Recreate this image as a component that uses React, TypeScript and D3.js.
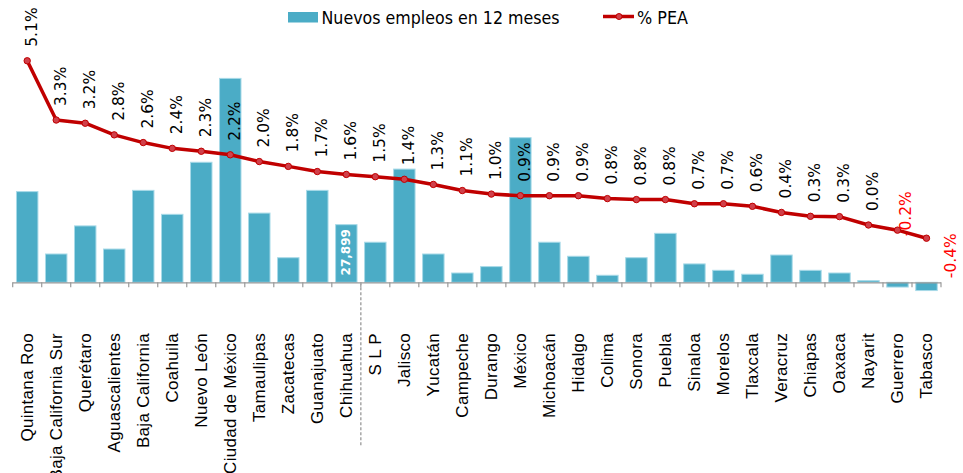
import React from 'react';
import { scaleLinear, scaleBand, line } from 'd3';

const states = [
  'Quintana Roo', 'Baja California Sur', 'Querétaro', 'Aguascalientes', 'Baja California',
  'Coahuila', 'Nuevo León', 'Ciudad de México', 'Tamaulipas', 'Zacatecas', 'Guanajuato',
  'Chihuahua', 'S L P', 'Jalisco', 'Yucatán', 'Campeche', 'Durango', 'México', 'Michoacán',
  'Hidalgo', 'Colima', 'Sonora', 'Puebla', 'Sinaloa', 'Morelos', 'Tlaxcala', 'Veracruz',
  'Chiapas', 'Oaxaca', 'Nayarit', 'Guerrero', 'Tabasco',
];

// nuevos empleos en 12 meses
const empleos = [
  43900, 13700, 27300, 16100, 44500, 32900, 58100, 98700, 33500, 11900, 44500,
  27899, 19400, 54800, 13700, 4500, 7600, 70000, 19400, 12600, 3400, 11900,
  23700, 8900, 5800, 3900, 13200, 5800, 4500, 800, -2300, -4000,
];

// % PEA
const pctPEA = [
  5.1, 3.26, 3.16, 2.8, 2.56, 2.38, 2.29, 2.18, 1.97, 1.82, 1.66,
  1.57, 1.5, 1.42, 1.26, 1.07, 0.96, 0.91, 0.91, 0.91, 0.82, 0.79,
  0.79, 0.66, 0.66, 0.58, 0.39, 0.27, 0.26, 0.0, -0.16, -0.41,
];

const labeledBar = 'Chihuahua';
const splitAfter = 'Chihuahua';

const W = 963;
const H = 473;
const BAR = '#4BACC6';
const RED = '#C00000';
const LEGEND_FONT = "'DejaVu Sans Condensed', 'DejaVu Sans', sans-serif";

const App = () => {
  const x = scaleBand().domain(states).range([12.7, 941]).paddingInner(0.26).paddingOuter(0.13);
  const step = x.step();
  const yBar = scaleLinear().domain([0, 100000]).range([282.3, 75.7]);
  const yPct = scaleLinear().domain([0, 5]).range([225, 64]);
  const cx = (s) => x(s) + x.bandwidth() / 2;

  const pts = states.map((s, i) => [cx(s), yPct(pctPEA[i])]);
  const path = line()(pts);
  const base = yBar(0);
  const splitX = x(splitAfter) + x.bandwidth() + (step - x.bandwidth()) / 2;

  return (
    <div style={{ position: 'absolute', left: 0, top: 0 }}>
      <svg width={W} height={H} style={{ display: 'block', background: '#fff' }}>
        {/* legend */}
        <rect x={288} y={12} width={30} height={10.5} fill={BAR} />
        <text x={321.5} y={24} fontFamily={LEGEND_FONT}
          fontSize={18.5} textLength={238} lengthAdjust="spacingAndGlyphs" fill="#000">Nuevos empleos en 12 meses</text>
        <line x1={603} x2={634} y1={16.5} y2={16.5} stroke={RED} strokeWidth={3.5} />
        <circle cx={619} cy={16.5} r={3} fill="#D0404A" stroke={RED} strokeWidth={1} />
        <text x={637} y={24} fontFamily={LEGEND_FONT}
          fontSize={18.5} textLength={51} lengthAdjust="spacingAndGlyphs" fill="#000">% PEA</text>

        {/* bars */}
        {states.map((s, i) => (
          <rect key={s} x={x(s)} width={x.bandwidth()}
            y={Math.min(yBar(empleos[i]), base)} height={Math.abs(yBar(empleos[i]) - base)}
            fill={BAR} stroke="#A8DAE8" strokeWidth={1} />
        ))}

        {/* bar value label */}
        {states.map((s, i) => s === labeledBar ? (
          <text key={'bl' + s} transform={`translate(${cx(s)},${yBar(empleos[i]) + 4.5}) rotate(-90)`}
            textAnchor="end" dominantBaseline="central" fill="#fff" fontWeight="bold"
            fontFamily="'DejaVu Sans', sans-serif" fontSize={12}>
            {empleos[i].toLocaleString('en-US')}
          </text>
        ) : null)}

        {/* axis */}
        <line x1={12.7} x2={941} y1={base + 0.5} y2={base + 0.5} stroke="#9a9a9a" strokeWidth={1.2} />
        {[...states.map((s) => x(s) - (step - x.bandwidth()) / 2), 941].map((t, i) => (
          <line key={'t' + i} x1={t} x2={t} y1={base} y2={base + 5} stroke="#9a9a9a" strokeWidth={1.2} />
        ))}
        <line x1={splitX} x2={splitX} y1={base} y2={447} stroke="#a6a6a6" strokeWidth={1.5} strokeDasharray="3,2" />

        {/* category labels */}
        {states.map((s) => (
          <text key={'c' + s} transform={`translate(${cx(s)},333) rotate(-90)`} textAnchor="end"
            dominantBaseline="central" fontFamily="'Liberation Sans', Arial, sans-serif" fontSize={17}
            letterSpacing={0.3} fill="#000">{s}</text>
        ))}

        {/* percent labels */}
        {states.map((s, i) => {
          const v = pctPEA[i];
          const neg = v < 0;
          let lx = cx(s) + 5;
          let ly = yPct(v) - 14;
          if (s === 'Guerrero') { lx = cx(s) + 9; ly = yPct(v) + 6; }
          if (s === 'Tabasco') { lx = cx(s) + 25; ly = yPct(v) + 40; }
          return (
            <text key={'p' + s} transform={`translate(${lx},${ly}) rotate(-90)`} textAnchor="start"
              dominantBaseline="central" fontFamily="'DejaVu Sans', Verdana, sans-serif" fontSize={15.5}
              fill={neg ? '#FF0000' : '#000'}>{v.toFixed(1)}%</text>
          );
        })}

        {/* line */}
        <path d={path} fill="none" stroke={RED} strokeWidth={3.5} strokeLinejoin="round" />
        {pts.map((p, i) => (
          <circle key={'m' + i} cx={p[0]} cy={p[1]} r={3.2} fill="#D0404A" stroke={RED} strokeWidth={1} />
        ))}
      </svg>
    </div>
  );
};

export default App;
